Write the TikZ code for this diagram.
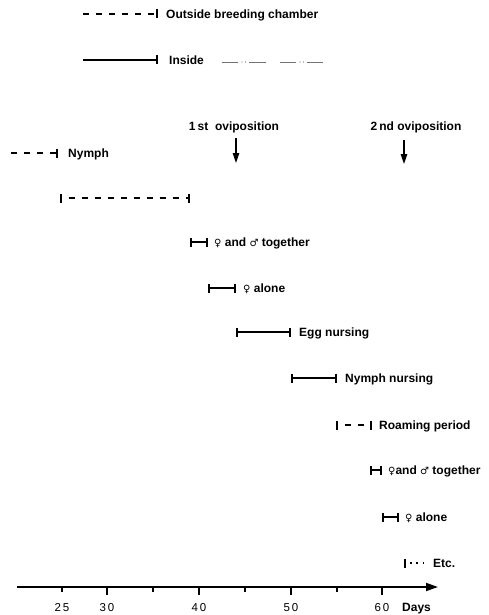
\documentclass[tikz,border=0pt]{standalone}
\usepackage{fontspec}
\setmainfont{Liberation Sans}
\newfontfamily\symfnt{DejaVu Sans}
\usetikzlibrary{arrows.meta}
\newcommand{\fem}{{\symfnt\fontsize{10}{12}\selectfont ♀}}
\newcommand{\mal}{{\symfnt\fontsize{10}{12}\selectfont ♂}}
\begin{document}
\begin{tikzpicture}[x=1pt,y=-1pt,
  lab/.style={font=\fontsize{12}{13}\selectfont\bfseries, inner sep=0pt, anchor=base west},
  clab/.style={font=\fontsize{12}{13}\selectfont\bfseries, inner sep=0pt, anchor=base},
  num/.style={font=\fontsize{11.5}{13}\selectfont, inner sep=0pt, anchor=base},
  per/.style={line width=1.6pt},
  dsh/.style={per, dash pattern=on 6pt off 7pt},
  dshgap/.style={per, dash pattern=on 6pt off 7pt, dash phase=6pt},
  dotgap/.style={per, dash pattern=on 1.6pt off 4.6pt, dash phase=1.6pt},
  endbar/.style={-{Bar[width=9pt,line width=2.2pt]}},
  bothbar/.style={{Bar[width=9pt,line width=2.2pt]}-{Bar[width=9pt,line width=2.2pt]}},
  startbar/.style={{Bar[width=9pt,line width=2.2pt]}-},
  thinleg/.style={line width=0.6pt, black!55},
  downarr/.style={line width=1.2pt, -{Triangle[length=10pt,width=6.5pt]}},
]
\useasboundingbox (0,0) rectangle (489,615);

% legend
\coordinate (oS) at (83,14); \coordinate (oE) at (158,14);
\draw[dsh,endbar] (oS) -- (oE);
\node[lab] (oL) at (166,18.5) {Outside breeding chamber};

\coordinate (iS) at (83,60); \coordinate (iE) at (158,60);
\draw[per,endbar] (iS) -- (iE);
\node[lab] (iL) at (169,64.5) {Inside};
\coordinate (l1a) at (222,62); \coordinate (l1b) at (238,62);
\coordinate (l1c) at (249,62); \coordinate (l1d) at (266,62);
\draw[thinleg] (l1a) -- (l1b) (l1c) -- (l1d);
\fill[black!55] (242,62) circle (0.6pt) (245.5,62) circle (0.6pt);
\coordinate (l2a) at (280,62); \coordinate (l2b) at (296,62);
\coordinate (l2c) at (307,62); \coordinate (l2d) at (323,62);
\draw[thinleg] (l2a) -- (l2b) (l2c) -- (l2d);
\fill[black!55] (300,62) circle (0.6pt) (303.5,62) circle (0.6pt);

% oviposition markers
\node[clab] (ov1) at (234,130) {1\,st\ \ oviposition};
\coordinate (a1s) at (236,138); \coordinate (a1e) at (236,163);
\draw[downarr] (a1s) -- (a1e);
\node[clab] (ov2) at (416,130) {2\,nd oviposition};
\coordinate (a2s) at (404,140); \coordinate (a2e) at (404,164);
\draw[downarr] (a2s) -- (a2e);

% nymph
\coordinate (nS) at (11,153); \coordinate (nE) at (58,153);
\draw[dsh,endbar] (nS) -- (nE);
\node[lab] (nL) at (68,157.5) {Nymph};

\coordinate (dS) at (60,198); \coordinate (dE) at (190,198);
\draw[dshgap,bothbar] (dS) -- (dE);

% first cycle
\coordinate (t1S) at (190,242); \coordinate (t1E) at (208,242);
\draw[per,bothbar] (t1S) -- (t1E);
\node[lab] (t1L) at (214,246.5) {\fem\ and \mal\ together};

\coordinate (f1S) at (208,288); \coordinate (f1E) at (236,288);
\draw[per,bothbar] (f1S) -- (f1E);
\node[lab] (f1L) at (243,292.5) {\fem\ alone};

\coordinate (eS) at (236,332); \coordinate (eE) at (291,332);
\draw[per,bothbar] (eS) -- (eE);
\node[lab] (eL) at (299,336.5) {Egg nursing};

\coordinate (mS) at (291,378); \coordinate (mE) at (337,378);
\draw[per,bothbar] (mS) -- (mE);
\node[lab] (mL) at (345,382.5) {Nymph nursing};

\coordinate (rS) at (336,425); \coordinate (rE) at (372,425);
\draw[dshgap,bothbar] (rS) -- (rE);
\node[lab] (rL) at (379,429.5) {Roaming period};

% second cycle
\coordinate (t2S) at (370,470); \coordinate (t2E) at (382,470);
\draw[per,bothbar] (t2S) -- (t2E);
\node[lab] (t2L) at (388,474.5) {\fem and \mal\ together};

\coordinate (f2S) at (382,517); \coordinate (f2E) at (399,517);
\draw[per,bothbar] (f2S) -- (f2E);
\node[lab] (f2L) at (405,521.5) {\fem\ alone};

\coordinate (xS) at (404,563); \coordinate (xE) at (427,563);
\draw[dotgap,startbar] (xS) -- (xE);
\node[lab] (xL) at (433,567.5) {Etc.};

% axis
\coordinate (axS) at (17,587); \coordinate (axE) at (438,587);
\draw[line width=1.8pt,-{Triangle[length=12pt,width=8pt]}] (axS) -- (axE);
\foreach \x in {107,199,291,382} \draw[line width=1.6pt] (\x,587) -- (\x,595);
\foreach \x in {62,153,245,337} \draw[line width=1.4pt] (\x,587) -- (\x,592);
\node[num] (d25) at (62,611.5) {2\,5};
\node[num] (d30) at (107,611.5) {3\,0};
\node[num] (d40) at (199,611.5) {4\,0};
\node[num] (d50) at (291,611.5) {5\,0};
\node[num] (d60) at (382,611.5) {6\,0};
\node[lab] (days) at (402,611.5) {Days};
\end{tikzpicture}
\end{document}
